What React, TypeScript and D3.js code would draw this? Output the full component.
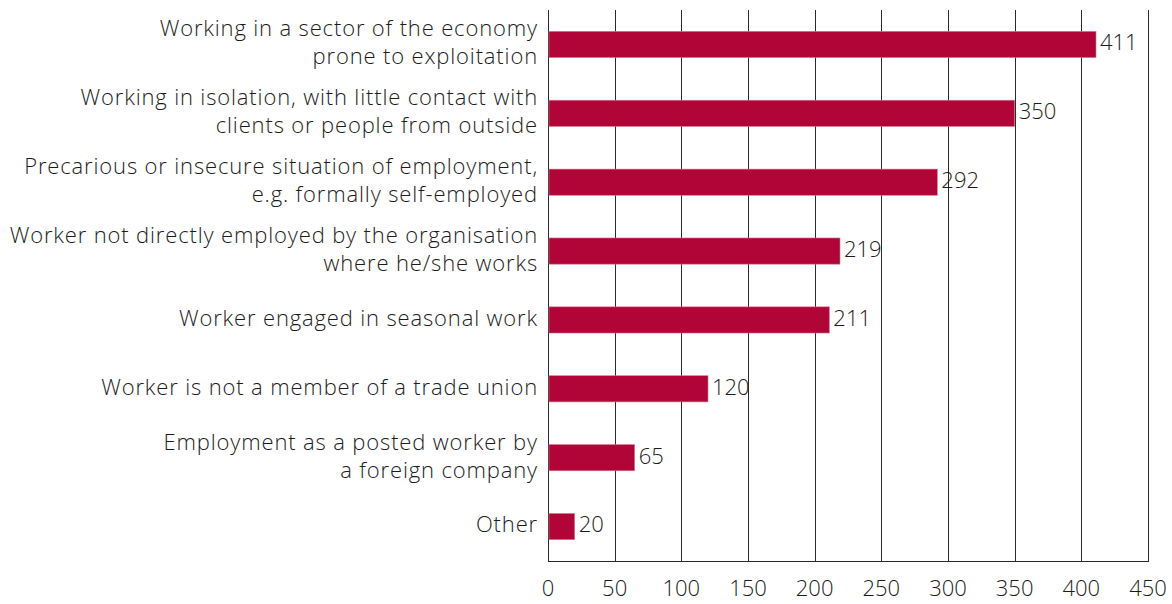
import { useEffect, useRef } from "react"
import * as d3 from "d3"

// categories, top to bottom; each entry holds the label lines
const categories: string[][] = [
  ["Working in a sector of the economy", "prone to exploitation"],
  ["Working in isolation, with little contact with", "clients or people from outside"],
  ["Precarious or insecure situation of employment,", "e.g. formally self-employed"],
  ["Worker not directly employed by the organisation", "where he/she works"],
  ["Worker engaged in seasonal work"],
  ["Worker is not a member of a trade union"],
  ["Employment as a posted worker by", "a foreign company"],
  ["Other"],
]
const values: number[] = [411, 350, 292, 219, 211, 120, 65, 20]
const xTicks: number[] = [0, 50, 100, 150, 200, 250, 300, 350, 400, 450]

const W = 1172
const H = 604
const FONT = "'Open Sans', 'DejaVu Sans', sans-serif"
const TEXT = "#1c1c1c"

const App = () => {
  const svgRef = useRef<SVGSVGElement | null>(null)

  useEffect(() => {
    if (!svgRef.current) return
    const svg = d3.select(svgRef.current)
    svg.selectAll("*").remove()

    const margin = { top: 10, right: 24, bottom: 43, left: 548 }
    const innerW = W - margin.left - margin.right
    const innerH = H - margin.top - margin.bottom

    const x = d3.scaleLinear().domain([0, 450]).range([0, innerW])
    const y = d3
      .scaleBand<number>()
      .domain(d3.range(categories.length))
      .range([0, innerH])
      .paddingInner(0.62)
      .paddingOuter(0.31)

    const g = svg.append("g").attr("transform", `translate(${margin.left},${margin.top})`)

    // vertical gridlines
    g.selectAll(".grid")
      .data(xTicks)
      .join("line")
      .attr("x1", (d) => Math.round(x(d)) + 0.5)
      .attr("x2", (d) => Math.round(x(d)) + 0.5)
      .attr("y1", 0)
      .attr("y2", innerH)
      .attr("stroke", "#2a2a2a")
      .attr("stroke-width", 1)

    // bottom axis line
    g.append("line")
      .attr("x1", 0)
      .attr("x2", Math.round(x(450)) + 1)
      .attr("y1", innerH + 0.5)
      .attr("y2", innerH + 0.5)
      .attr("stroke", "#2a2a2a")

    // tick labels
    g.selectAll(".tick-label")
      .data(xTicks)
      .join("text")
      .attr("x", (d) => x(d))
      .attr("y", innerH + 29)
      .attr("text-anchor", "middle")
      .attr("dominant-baseline", "middle")
      .attr("font-family", FONT)
      .attr("font-weight", 300)
      .attr("font-size", 22)
      .attr("fill", TEXT)
      .text((d) => d)

    // bars
    g.selectAll(".bar")
      .data(values)
      .join("rect")
      .attr("x", 1)
      .attr("y", (_, i) => y(i) as number)
      .attr("width", (d) => x(d) - 1)
      .attr("height", y.bandwidth())
      .attr("fill", "#b10538")
      .attr("stroke", "#d9738f")
      .attr("stroke-width", 0.6)

    // value labels
    g.selectAll(".val")
      .data(values)
      .join("text")
      .attr("x", (d) => x(d) + 4)
      .attr("y", (_, i) => (y(i) as number) + y.bandwidth() / 2)
      .attr("dominant-baseline", "middle")
      .attr("font-family", FONT)
      .attr("font-weight", 300)
      .attr("font-size", 22)
      .attr("fill", TEXT)
      .text((d) => d)

    // category labels
    const lineH = 28
    const cat = g
      .selectAll(".cat")
      .data(categories)
      .join("text")
      .attr("text-anchor", "end")
      .attr("font-family", FONT)
      .attr("font-weight", 300)
      .attr("font-size", 22)
      .attr("letter-spacing", 0.85)
      .attr("fill", TEXT)
    cat.each(function (lines, i) {
      const cy = (y(i) as number) + y.bandwidth() / 2
      const start = cy - ((lines.length - 1) * lineH) / 2
      d3.select(this)
        .selectAll("tspan")
        .data(lines)
        .join("tspan")
        .attr("x", -10)
        .attr("y", (_, j) => start + j * lineH)
        .attr("dominant-baseline", "middle")
        .text((d) => d)
    })
  }, [])

  return (
    <div style={{ position: "absolute", left: 0, top: 0 }}>
      <svg ref={svgRef} width={W} height={H} style={{ display: "block", background: "#fff" }} />
    </div>
  )
}

export default App
